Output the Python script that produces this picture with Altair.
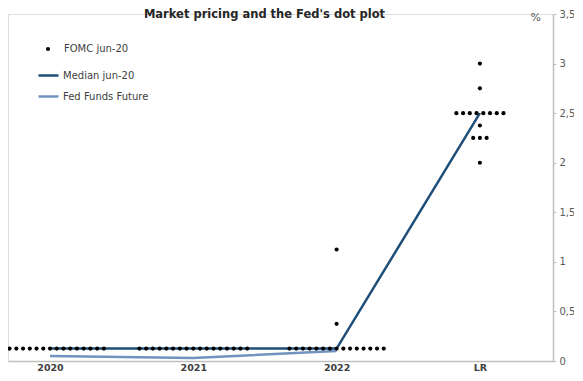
import altair as alt
import pandas as pd

# ---- data ----
categories = ["2020", "2021", "2022", "LR"]
fomc_2020 = [0.125] * 17
fomc_2021 = [0.125] * 17
fomc_2022 = [0.125] * 15 + [0.375, 1.125]
fomc_lr = [3.0, 2.75] + [2.5] * 8 + [2.375] + [2.25] * 3 + [2.0]
median_jun20 = [0.125, 0.125, 0.125, 2.5]
fed_funds_future = [0.05, 0.03, 0.10]

series_names = ["FOMC jun-20", "Median jun-20", "Fed Funds Future"]

# dot-plot layout: dots sharing the same level are spread side by side
dot_step = 0.047
rows = []
for ci, vals in enumerate([fomc_2020, fomc_2021, fomc_2022, fomc_lr]):
    levels = {}
    for v in vals:
        levels.setdefault(v, 0)
        levels[v] += 1
    for v, n in levels.items():
        for i in range(n):
            rows.append({"x": ci + (i - (n - 1) / 2) * dot_step, "y": v,
                         "series": series_names[0]})
dots = pd.DataFrame(rows)

line_rows = []
for ci, v in enumerate(median_jun20):
    line_rows.append({"x": ci, "y": v, "series": series_names[1]})
for ci, v in enumerate(fed_funds_future):
    line_rows.append({"x": ci, "y": v, "series": series_names[2]})
lines = pd.DataFrame(line_rows)

FONT = "DejaVu Sans"
label_expr = "[" + ",".join(f"'{c}'" for c in categories) + "][datum.value]"

x_scale = alt.Scale(domain=[-0.293, 3.51], nice=False, zero=False)
y_scale = alt.Scale(domain=[0, 3.5], nice=False)

x_axis = alt.Axis(values=[0, 1, 2, 3], labelExpr=label_expr, title=None,
                  grid=False, ticks=False, domainColor="#bfbfbf",
                  domainWidth=1.5, labelFont=FONT, labelFontSize=9.5,
                  labelFontWeight="bold", labelColor="#404040",
                  labelPadding=1)
y_axis = alt.Axis(orient="right", values=[0, 0.5, 1, 1.5, 2, 2.5, 3, 3.5],
                  labelExpr="replace(toString(datum.value), '.', ',')",
                  grid=False, ticks=True, tickSize=3, tickColor="#bfbfbf",
                  domainColor="#bfbfbf", domainWidth=1.5,
                  labelFont=FONT, labelFontSize=10, labelColor="#595959",
                  labelPadding=3,
                  title="%", titleAngle=0, titleX=-23, titleY=3,
                  titleAlign="left", titleBaseline="middle",
                  titleFont=FONT, titleFontSize=11, titleFontWeight="normal",
                  titleColor="#595959")

points = alt.Chart(dots).mark_circle(size=17, opacity=1).encode(
    x=alt.X("x:Q", scale=x_scale, axis=x_axis),
    y=alt.Y("y:Q", scale=y_scale, axis=y_axis),
    color=alt.Color("series:N",
                    scale=alt.Scale(domain=[series_names[0]], range=["#000000"]),
                    legend=alt.Legend(orient="none", legendX=35, legendY=30,
                                      title=None, symbolSize=17,
                                      symbolType="circle", labelOffset=11,
                                      labelFont=FONT, labelFontSize=10,
                                      labelColor="#404040", padding=0)),
)

line_layer = alt.Chart(lines).mark_line(strokeWidth=2.5).encode(
    x=alt.X("x:Q", scale=x_scale),
    y=alt.Y("y:Q", scale=y_scale),
    color=alt.Color("series:N",
                    scale=alt.Scale(domain=series_names[1:],
                                    range=["#1f4e79", "#7293bf"]),
                    sort=series_names[1:],
                    legend=alt.Legend(orient="none", legendX=29, legendY=50,
                                      title=None, symbolSize=400,
                                      symbolType="stroke", symbolStrokeWidth=2.5,
                                      labelOffset=3, rowPadding=4,
                                      labelFont=FONT, labelFontSize=10,
                                      labelColor="#404040", padding=0)),
)

chart = alt.layer(line_layer, points).resolve_scale(color="independent").properties(
    width=545, height=347,
    autosize=alt.AutoSizeParams(type="none"),
    padding={"left": 0, "top": 6, "right": 21, "bottom": 11},
    title=alt.TitleParams("Market pricing and the Fed's dot plot", font=FONT,
                          fontSize=11.5, fontWeight="bold", color="#262626",
                          anchor="middle", dx=-16, dy=12, offset=1),
).configure_view(stroke=None).configure(background="white")

chart.save("out.html", embed_options={"renderer": "svg", "actions": False})
